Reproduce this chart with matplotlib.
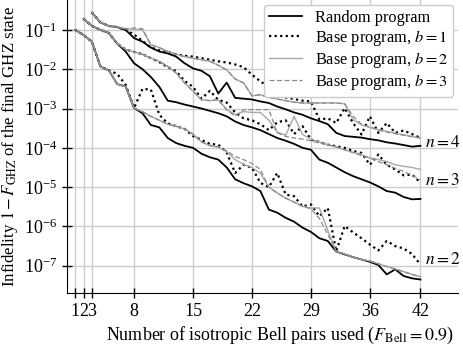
import numpy as np
import matplotlib.pyplot as plt

plt.rcParams['font.family'] = 'Liberation Serif'
plt.rcParams['mathtext.fontset'] = 'stix'

x_ticks = [1, 2, 3, 8, 15, 22, 29, 36, 42]

# log10 of the infidelity; n=2 starts at 1 pair, n=3 at 2 pairs, n=4 at 3 pairs
n2_random = [-1.00, -1.13, -1.30, -1.93, -2.03, -2.38, -2.44, -2.99, -3.12, -3.42,
             -3.48, -3.75, -3.88, -3.95, -4.00, -4.15, -4.24, -4.30, -4.50, -4.80,
             -4.90, -4.98, -5.10, -5.57, -5.65, -5.78, -5.88, -6.03, -6.14, -6.30,
             -6.37, -6.64, -6.71, -6.78, -6.84, -6.90, -6.98, -7.22, -7.09, -7.26, -7.32, -7.35]
n2_b1 = [-1.00, -1.13, -1.30, -1.93, -2.03, -2.12, -2.40, -2.99, -2.50, -2.52,
         -3.16, -3.38, -3.45, -3.52, -3.70, -3.80, -3.90, -3.92, -4.12, -4.64,
         -4.43, -4.51, -4.89, -5.00, -4.64, -5.19, -5.23, -5.49, -5.44, -5.74,
         -5.53, -6.63, -5.99, -6.15, -6.30, -6.46, -6.61, -6.37, -6.50, -6.56, -6.70, -6.97]
n2_b2 = [-1.00, -1.13, -1.30, -1.93, -2.03, -2.38, -2.44, -2.99, -3.08, -3.20,
         -3.30, -3.40, -3.45, -3.52, -3.65, -3.85, -3.95, -3.98, -4.10, -4.30,
         -4.42, -4.50, -4.65, -5.00, -5.15, -5.28, -5.38, -5.49, -5.53, -5.53,
         -6.10, -6.64, -6.70, -6.78, -6.84, -6.88, -6.95, -7.02, -7.08, -7.15, -7.22, -7.28]
n2_b3 = [-1.00, -1.13, -1.30, -1.93, -2.03, -2.38, -2.44, -2.99, -3.08, -3.20,
         -3.30, -3.40, -3.45, -3.52, -3.65, -3.85, -3.93, -3.98, -4.08, -4.22,
         -4.30, -4.40, -4.55, -5.00, -5.15, -5.28, -5.38, -5.49, -5.55, -5.80,
         -6.20, -6.64, -6.70, -6.78, -6.84, -6.88, -6.95, -7.02, -7.08, -7.15, -7.22, -7.28]

n3_random = [-0.72, -0.90, -1.00, -1.08, -1.35, -1.55, -1.85, -2.00, -2.20, -2.45,
             -2.80, -2.84, -2.90, -2.95, -3.00, -3.06, -3.12, -3.20, -3.33, -3.42,
             -3.48, -3.55, -3.65, -3.75, -3.82, -3.90, -4.00, -4.05, -4.30, -4.38,
             -4.50, -4.62, -4.72, -4.80, -4.88, -4.98, -5.10, -5.14, -5.25, -5.31, -5.30]
n3_b1 = [-0.72, -0.90, -1.00, -1.08, -1.35, -1.50, -1.56, -1.62, -1.72, -1.82,
         -1.95, -2.05, -2.30, -2.45, -2.75, -2.55, -2.78, -2.85, -3.10, -3.25,
         -3.30, -3.40, -3.55, -3.35, -3.30, -3.65, -3.45, -3.79, -3.85, -3.92,
         -3.96, -4.00, -4.08, -4.13, -4.43, -4.17, -4.43, -4.55, -4.70, -4.68, -4.89]
n3_b2 = [-0.72, -0.90, -1.00, -1.08, -1.35, -1.50, -1.56, -1.62, -1.72, -1.80,
         -1.93, -2.10, -2.35, -2.56, -2.78, -2.80, -2.78, -3.03, -3.15, -3.08,
         -3.10, -3.10, -3.30, -3.60, -3.68, -3.20, -3.66, -3.78, -3.85, -3.92,
         -3.98, -4.05, -4.12, -4.17, -4.26, -4.30, -4.35, -4.43, -4.47, -4.50, -4.55]
n3_b3 = [-0.72, -0.90, -1.00, -1.08, -1.35, -1.50, -1.56, -1.62, -1.72, -1.80,
         -1.93, -2.10, -2.35, -2.56, -2.78, -2.80, -2.78, -3.03, -3.20, -3.03,
         -3.03, -3.03, -3.03, -3.62, -3.71, -3.75, -3.78, -3.82, -3.88, -3.92,
         -3.98, -4.05, -4.12, -4.20, -4.26, -4.35, -4.43, -4.52, -4.60, -4.70, -4.81]

n4_random = [-0.56, -0.81, -0.90, -0.93, -1.00, -1.21, -1.30, -1.45, -1.55, -1.60,
             -1.68, -1.85, -1.98, -2.04, -2.18, -2.62, -2.34, -2.73, -2.75, -2.77,
             -2.82, -2.86, -2.95, -3.02, -3.10, -3.16, -3.25, -3.32, -3.40, -3.62,
             -3.70, -3.72, -3.74, -3.78, -3.81, -3.86, -3.89, -3.93, -3.97, -3.95]
n4_b1 = [-0.56, -0.81, -0.90, -0.93, -1.00, -1.12, -1.28, -1.45, -1.52, -1.56,
         -1.62, -1.66, -1.68, -1.72, -1.76, -1.80, -1.83, -1.88, -1.95, -2.14,
         -2.31, -2.45, -2.60, -2.72, -2.76, -2.80, -2.82, -3.28, -3.25, -3.37,
         -2.99, -3.37, -3.66, -3.20, -3.62, -3.37, -3.62, -3.56, -3.65, -3.75]
n4_b2 = [-0.56, -0.81, -0.90, -0.93, -0.97, -0.99, -1.00, -1.38, -1.45, -1.55,
         -1.62, -1.68, -1.72, -1.76, -1.80, -1.90, -2.02, -2.25, -2.35, -2.68,
         -2.65, -2.72, -2.76, -2.80, -2.84, -2.86, -2.86, -2.86, -2.86, -2.86,
         -2.88, -3.28, -3.42, -3.48, -3.54, -3.58, -3.63, -3.67, -3.71, -3.75]
n4_b3 = [-0.56, -0.81, -0.90, -0.93, -0.97, -0.95, -0.97, -1.38, -1.45, -1.55,
         -1.62, -1.68, -1.72, -1.76, -1.80, -1.90, -2.02, -2.25, -2.35, -2.68,
         -2.65, -2.72, -2.76, -2.80, -2.84, -2.86, -2.86, -2.86, -2.86, -2.86,
         -2.88, -3.20, -3.40, -3.47, -3.55, -3.60, -3.64, -3.68, -3.72, -3.75]

groups = {2: [n2_random, n2_b1, n2_b2, n2_b3],
          3: [n3_random, n3_b1, n3_b2, n3_b3],
          4: [n4_random, n4_b1, n4_b2, n4_b3]}
label_y = {2: 1.4e-7, 3: 1.4e-5, 4: 1.3e-4}

labels = ['Random program', r'Base program, $b=1$', r'Base program, $b=2$', r'Base program, $b=3$']
styles = [dict(color='black', lw=1.3, ls='-'),
          dict(color='black', lw=1.6, ls=(0, (1, 1.5))),
          dict(color='#a8a8a8', lw=1.0, ls='-'),
          dict(color='#8a8a8a', lw=0.9, ls=(0, (4, 2)))]

fig = plt.figure(figsize=(4.63, 3.45), dpi=100)
ax = fig.add_axes([0.144, 0.150, 0.846, 0.850])

for n, series in groups.items():
    pairs = np.arange(n - 1, 43)
    for k, vals in enumerate(series):
        ax.plot(pairs, 10.0 ** np.array(vals), label=labels[k] if n == 2 else None, **styles[k])
    ax.text(42.5, label_y[n], f'$n={n}$', fontsize=12.5, ha='left', va='center')

ax.set_yscale('log')
ax.set_xlim(0, 46.5)
ax.set_ylim(2.0e-8, 0.575)
ax.set_xticks(x_ticks)
ax.set_yticks([1e-1, 1e-2, 1e-3, 1e-4, 1e-5, 1e-6, 1e-7])
ax.minorticks_off()
ax.tick_params(direction='inout', length=7, width=1, labelsize=13)
ax.grid(True, color='#cccccc', lw=1)
ax.set_axisbelow(True)
for s in ['top', 'right']:
    ax.spines[s].set_visible(False)

ax.set_xlabel(r'Number of isotropic Bell pairs used ($F_{\mathrm{Bell}}=0.9$)', fontsize=13)
ax.xaxis.set_label_coords(0.545, -0.108)
ax.set_ylabel(r'Infidelity $1 - F_{\mathrm{GHZ}}$ of the final GHZ state', fontsize=12.2)
ax.yaxis.set_label_coords(-0.118, 0.5)
ax.legend(loc='upper right', fontsize=11.8, framealpha=1, edgecolor='#cccccc',
          handlelength=2.0, handletextpad=0.8, borderpad=0.3, labelspacing=0.12,
          borderaxespad=0.3)

fig.savefig('out.png', dpi=100)
